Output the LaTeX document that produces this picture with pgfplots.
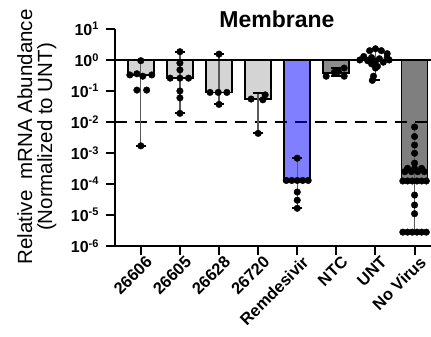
\documentclass[border=0pt]{standalone}
\usepackage{pgfplots}
\pgfplotsset{compat=1.18}
\usepackage{fontspec}
\setmainfont{Liberation Sans}
\newcommand{\tl}[1]{10\raisebox{5.5pt}{\fontsize{11}{11}\selectfont #1}}
\begin{document}
\begin{tikzpicture}
\begin{axis}[
  at={(115pt,91pt)}, anchor=south west,
  scale only axis, width=316pt, height=217pt,
  ymode=log, log basis y=10,
  ymin=1e-6, ymax=10,
  xmin=0.34, xmax=8.42,
  axis x line*=bottom, axis y line*=left,
  axis line style={line width=2pt},
  every tick/.style={black, line width=2pt},
  tick align=outside, major tick length=9pt,
  ytick={1e-6,1e-5,1e-4,1e-3,1e-2,1e-1,1,10},
  yticklabels={\tl{-6},\tl{-5},\tl{-4},\tl{-3},\tl{-2},\tl{-1},\tl{0},\tl{1}},
  yminorticks=false,
  xtick={1,2,3,4,5,6,7,8},
  xticklabels={26606,26605,26628,26720,Remdesivir,NTC,UNT,No Virus},
  xticklabel style={rotate=45, anchor=east, xshift=4pt, yshift=-9pt, inner sep=1pt, font=\bfseries\fontsize{16.5}{16.5}\selectfont},
  yticklabel style={xshift=-4pt, font=\bfseries\fontsize{16}{16}\selectfont},
  clip=false,
]
% dashed reference line (under the translucent bars)
\addplot[black, line width=2pt, dash pattern=on 12pt off 8pt] coordinates {(0.34,0.01) (8.42,0.01)};
% bars
\addplot[ybar, bar width=26pt, draw=black, line width=1.8pt, fill=black, fill opacity=0.17, draw opacity=1]
  coordinates {(1,0.33) (2,0.27) (3,0.09) (4,0.055)};
\addplot[ybar, bar width=26pt, draw=black, line width=1.8pt, fill=blue, fill opacity=0.5, draw opacity=1]
  coordinates {(5,1.2e-4)};
\addplot[ybar, bar width=26pt, draw=black, line width=1.8pt, fill=black, fill opacity=0.45, draw opacity=1]
  coordinates {(6,0.38)};
\addplot[ybar, bar width=26pt, draw=black, line width=1.8pt, fill=black, fill opacity=0.5, draw opacity=1]
  coordinates {(8,1.4e-4)};
% ranges with caps
\pgfplotsset{rng/.style={black!65, line width=1.3pt, mark=-, mark size=5pt, mark options={black, line width=1.8pt}}}
\addplot[rng] coordinates {(1,1.7e-3) (1,1.0)};
\addplot[rng] coordinates {(2,0.019) (2,1.85)};
\addplot[rng] coordinates {(3,0.037) (3,1.55)};
\addplot[rng] coordinates {(4,0.0043) (4,0.085)};
\addplot[rng] coordinates {(5,1.65e-5) (5,6.8e-4)};
\addplot[rng] coordinates {(6,0.30) (6,0.55)};
\addplot[rng] coordinates {(7,0.22) (7,2.3)};
\addplot[black!65, line width=1.3pt] coordinates {(8,2.8e-6) (8,7e-3)};
% points
\pgfplotsset{pts/.style={only marks, mark=*, mark size=3.3pt, black}}
\addplot[pts] coordinates {(1,0.95) (0.72,0.33) (0.9,0.36) (1.05,0.30) (1.28,0.33) (0.9,0.107) (1.15,0.107) (1,1.7e-3)};
\addplot[pts] coordinates {(2,1.85) (2,0.8) (2,0.48) (1.75,0.26) (2,0.26) (2.22,0.26) (2,0.1) (2,0.06) (2,0.019)};
\addplot[pts] coordinates {(3,1.55) (2.77,0.09) (2.98,0.09) (3.2,0.09) (3,0.037)};
\addplot[pts] coordinates {(3.82,0.055) (4.12,0.052) (4.18,0.075) (4.0,0.0043)};
\addplot[pts] coordinates {(5,6.8e-4) (4.72,1.3e-4) (4.86,1.3e-4) (5,1.3e-4) (5.14,1.3e-4) (5.28,1.3e-4) (5,5.5e-5) (5,3e-5) (5,1.65e-5)};
\addplot[pts] coordinates {(5.74,0.30) (5.95,0.40) (6.2,0.55) (6.2,0.30) (6.05,0.42)};
\addplot[pts] coordinates {(7.0,2.3) (6.85,2.0) (7.15,2.0) (7.3,1.6) (6.7,1.3) (6.9,1.2) (7.1,1.1) (7.3,1.2) (6.6,1.0) (6.8,0.95) (7.0,0.9) (7.2,0.85) (7.35,1.0) (6.9,0.75) (7.05,0.62) (7.0,0.55) (6.95,0.3) (6.92,0.22)};
\addplot[pts] coordinates {(8,6.9e-3) (8,3.4e-3) (8,1.8e-3) (8,9.8e-4) (8,4.7e-4) (7.82,3.2e-4) (8,3.2e-4) (8.18,3.2e-4) (7.75,2.5e-4) (7.92,2.5e-4) (8.08,2.5e-4) (8.25,2.5e-4) (7.7,1.25e-4) (7.82,1.25e-4) (7.94,1.25e-4) (8.06,1.25e-4) (8.18,1.25e-4) (8.3,1.25e-4) (8,4.4e-5) (8,2.1e-5) (8,1.1e-5) (7.7,2.8e-6) (7.82,2.8e-6) (7.94,2.8e-6) (8.06,2.8e-6) (8.18,2.8e-6) (8.3,2.8e-6)};
% line at 1
\addplot[black, line width=2pt] coordinates {(0.34,1) (8.42,1)};
\end{axis}
\node[anchor=base, font=\bfseries\fontsize{23}{23}\selectfont] at (277pt,309pt) {Membrane};
\node[rotate=90, anchor=base, font=\fontsize{20.5}{20}\selectfont] at (32pt,200pt) {Relative\ \ mRNA Abundance};
\node[rotate=90, anchor=base, font=\fontsize{20.5}{20}\selectfont] at (52pt,200pt) {(Normalized to UNT)};
\pgfresetboundingbox
\path (0pt,0pt) rectangle (431pt,337pt);
\end{tikzpicture}
\end{document}
